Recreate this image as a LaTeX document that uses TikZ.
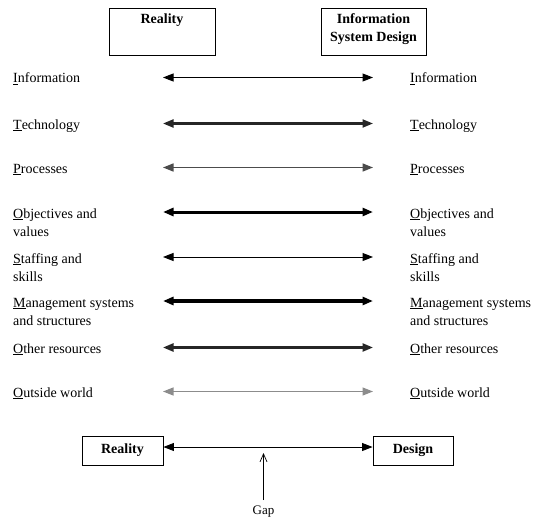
\documentclass[tikz,border=0pt]{standalone}
\usepackage{fontspec}
\setmainfont{Liberation Serif}
\usetikzlibrary{arrows.meta}
\begin{document}
\begin{tikzpicture}[x=1pt,y=-1pt,
  lbl/.style={anchor=base west,inner sep=0pt,align=left,font=\fontsize{14}{18}\selectfont},
  headbox/.style={draw,line width=0.9pt,inner sep=0pt},
  headtxt/.style={inner sep=0pt,align=center,font=\fontsize{14}{18}\selectfont\bfseries},
  tip/.style={Triangle[length=10.5pt,width=8pt]},
  link/.style={{Triangle[length=10.5pt,width=8pt]}-{Triangle[length=10.5pt,width=8pt]}},
]
\useasboundingbox (0,0) rectangle (549,519);

% header boxes
\draw[headbox] (109,8) rectangle (215,55);
\draw[headbox] (321,8) rectangle (426,55);
\node[headtxt,anchor=base] (hr) at (162,24) {Reality};
\node[headtxt,anchor=base] (hd) at (373.5,42) {Information\\System Design};

% rows: label (base of its last line), connector height, width, colour
\foreach \name/\txt/\yy/\ay/\w/\col in {
  inf/\underline{I}nformation/83/77.5/1.0pt/black,
  tec/\underline{T}echnology/129/123.5/2.1pt/black!85,
  pro/\underline{P}rocesses/173/167.5/1.6pt/black!70,
  obj/\underline{O}bjectives and\\values/236/212/3.0pt/black,
  sta/\underline{S}taffing and\\skills/281/257/1.0pt/black,
  man/\underline{M}anagement systems\\and structures/325/301/3.3pt/black,
  oth/\underline{O}ther resources/353/347.5/2.3pt/black!85,
  out/\underline{O}utside world/397/391.5/1.3pt/black!45}
{
  \node[lbl] (\name L) at (13,\yy) {\txt};
  \node[lbl] (\name R) at (410,\yy) {\txt};
  \coordinate (\name a) at (163,\ay);
  \coordinate (\name b) at (373,\ay);
  \draw[link,line width=\w,draw=\col,fill=black] (\name a) -- (\name b);
}

% bottom summary
\node[draw,line width=0.9pt,minimum width=81pt,minimum height=29pt,inner sep=0pt,
      font=\fontsize{14}{16}\selectfont\bfseries] (re) at (122.5,450.5) {Reality};
\node[draw,line width=0.9pt,minimum width=80pt,minimum height=29pt,inner sep=0pt,
      font=\fontsize{14}{16}\selectfont\bfseries] (de) at (413,450.5) {Design};
\draw[link,line width=0.8pt] (re.east |- 0,447) -- (de.west |- 0,447);
\node[inner sep=0pt,font=\fontsize{13}{14}\selectfont] (gap) at (263.5,512) {Gap};
\coordinate (gapend) at (263.5,453);
\draw[-{Straight Barb[length=8pt,width=7pt]},line width=0.7pt] (263.5,500) -- (gapend);
\end{tikzpicture}
\end{document}
